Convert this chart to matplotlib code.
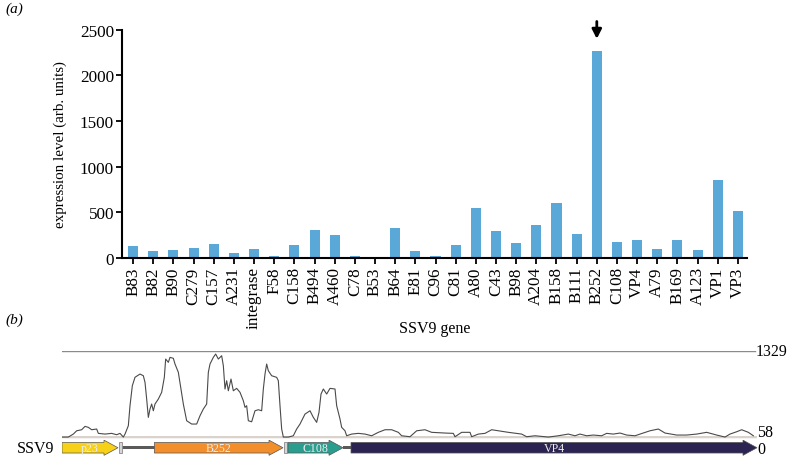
import matplotlib
matplotlib.use("Agg")
import matplotlib.pyplot as plt
from matplotlib.patches import Polygon, Rectangle

plt.rcParams['font.family'] = ['Liberation Serif', 'DejaVu Serif']

# ---------------- data: panel (a) ----------------
genes = ["B83", "B82", "B90", "C279", "C157", "A231", "integrase", "F58", "C158",
         "B494", "A460", "C78", "B53", "B64", "E81", "C96", "C81", "A80", "C43",
         "B98", "A204", "B158", "B111", "B252", "C108", "VP4", "A79", "B169",
         "A123", "VP1", "VP3"]
expression = [135, 80, 87, 110, 152, 57, 102, 25, 142, 302, 252, 18, 14, 324, 75,
              22, 142, 553, 292, 165, 365, 602, 268, 2270, 178, 193, 98, 197, 84,
              852, 510]
highlight_gene = "B252"
yticks_a = [0, 500, 1000, 1500, 2000, 2500]

# ---------------- data: panel (b) ----------------
cov_pos = [0, 38, 68, 88, 118, 138, 158, 178, 208, 218, 258, 298, 328, 348, 368,
           378, 398, 408, 422, 438, 468, 488, 498, 508, 518, 528, 538, 548, 558,
           578, 598, 614, 622, 638, 648, 668, 678, 698, 714, 728, 748, 778, 808,
           828, 848, 868, 878, 888, 908, 922, 938, 958, 968, 978, 988, 998, 1014,
           1028, 1048, 1068, 1088, 1098, 1108, 1118, 1138, 1158, 1178, 1198, 1208,
           1218, 1228, 1238, 1258, 1288, 1298, 1308, 1318, 1328, 1358, 1388, 1408,
           1428, 1458, 1488, 1508, 1528, 1542, 1554, 1568, 1588, 1608, 1638, 1648,
           1668, 1678, 1698, 1708, 1738, 1778, 1818, 1858, 1898, 1938, 1978, 2018,
           2038, 2088, 2128, 2178, 2218, 2298, 2348, 2358, 2398, 2448, 2458, 2498,
           2538, 2578, 2618, 2678, 2758, 2788, 2838, 2918, 2978, 3038, 3078, 3108,
           3148, 3188, 3238, 3268, 3308, 3348, 3388, 3438, 3488, 3528, 3578, 3618,
           3688, 3748, 3808, 3868, 3928, 3978, 4008, 4048, 4078, 4118, 4148]
cov_val = [0, 0, 46, 97, 113, 165, 150, 113, 124, 57, 46, 57, 36, 57, 0,
           46, 175, 484, 793, 923, 973, 947, 845, 587, 304, 433, 510, 406, 510,
           587, 691, 922, 1205, 1154, 1231, 1216, 1128, 1000, 742, 510, 252, 201, 201,
           329, 433, 510, 1000, 1128, 1231, 1282, 1205, 1256, 1102, 742, 870, 715, 896,
           715, 752, 691, 561, 459, 484, 252, 236, 406, 422, 406, 742,
           973, 1128, 1024, 947, 922, 870, 484, 124, 0, 0, 20, 124,
           201, 355, 406, 304, 227, 382, 664, 742, 664, 752, 742, 484,
           278, 150, 97, 20, 46, 57, 46, 20, 73, 113, 113, 73,
           20, 5, 97, 113, 73, 62, 57, 5, 73, 73, 5, 46,
           57, 113, 97, 73, 46, 5, 20, 0, 20, 46, 20, 46,
           20, 31, 20, 57, 46, 62, 31, 20, 62, 97, 124, 62,
           31, 31, 46, 73, 31, 0, 46, 82, 113, 73, 20]
cov_max = 1329
cov_mid_label = 58
genome_len = 4170

gene_names = ["p23", "B252", "C108", "VP4"]
gene_start = [0, 554, 1356, 1734]
gene_end = [336, 1326, 1686, 4170]
gene_colors = ["#f7d117", "#f28e2b", "#2a9d8f", "#2b2452"]
small_start = [344, 1332]
small_end = [360, 1350]
link_start = [360, 1686]
link_end = [558, 1734]

# ---------------- figure ----------------
fig = plt.figure(figsize=(7.87, 4.60), dpi=100)
W, H = 787.0, 460.0

def frac(x0, y0, x1, y1):
    return [x0 / W, 1 - y1 / H, (x1 - x0) / W, (y1 - y0) / H]

# panel (a)
ax = fig.add_axes(frac(122, 30.7, 747, 259))
x = list(range(len(genes)))
ax.bar(x, expression, width=0.5, color="#5aa8d8", zorder=2)
ax.set_xlim(-0.55, 30.45)
ax.set_ylim(0, 2500)
ax.set_yticks(yticks_a)
ax.set_xticks(x)
ax.set_xticklabels(genes, rotation=90, fontsize=12.3)
ax.tick_params(axis='y', labelsize=12.3, length=4.3, width=1.3, pad=1.5)
ax.tick_params(axis='x', length=4, width=1.3, pad=2)
for s in ["top", "right"]:
    ax.spines[s].set_visible(False)
for s in ["left", "bottom"]:
    ax.spines[s].set_linewidth(1.5)
ax.set_ylabel("expression level (arb. units)", fontsize=10.8)
ax.yaxis.set_label_coords(-0.088, 0.5)
ax.set_xlabel("SSV9 gene", fontsize=11.5)
ax.xaxis.set_label_coords(0.5, -0.272)

hi = genes.index(highlight_gene)
ax.annotate("", xy=(hi, expression[hi] + 130), xytext=(hi, expression[hi] + 320),
            arrowprops=dict(arrowstyle="-|>,head_length=0.55,head_width=0.28",
                            color="black", lw=2.0, shrinkA=0, shrinkB=0),
            annotation_clip=False)

fig.text(5 / W, 1 - 9 / H, "(a)", fontsize=11, style="italic", va="center")
fig.text(5 / W, 1 - 320 / H, "(b)", fontsize=11, style="italic", va="center")

# panel (b) coverage
axb = fig.add_axes(frac(62, 352, 757, 440))
axb.set_xlim(0, genome_len)
axb.set_ylim(-30, cov_max)
axb.axhline(cov_max, xmax=0.997, color="#8a8a8a", lw=1.0)
axb.axhline(0, color="#d8cfc6", lw=1.3)
axb.axhline(-25, color="#c4c4c4", lw=1.0)
axb.plot(cov_pos, cov_val, color="#4a4a4a", lw=0.8)
axb.axis("off")
axb.text(0.998, cov_max, str(cov_max), transform=axb.get_yaxis_transform(),
         fontsize=11.3, va="center", ha="left")
axb.text(1.0, 20 + 4 * 15.4, str(cov_mid_label), transform=axb.get_yaxis_transform(),
         fontsize=11.5, va="center", ha="left", clip_on=False)

# gene track
axg = fig.add_axes(frac(62, 440.5, 760, 457))
axg.set_xlim(0, genome_len * 698 / 695)
axg.set_ylim(-1, 1)
axg.axis("off")
head = 84
bh, hh = 0.64, 0.92
for s, e in zip(link_start, link_end):
    axg.add_patch(Rectangle((s, -0.2), e - s, 0.4, color="#5a5a5a", lw=0))
for s, e in zip(small_start, small_end):
    axg.add_patch(Rectangle((s, -0.66), e - s, 1.32, facecolor="#d6d6d6",
                            edgecolor="#8a8a8a", lw=0.6))
for name, s, e, c in zip(gene_names, gene_start, gene_end, gene_colors):
    hs = e - head
    pts = [(s, -bh), (hs, -bh), (hs, -hh), (e, 0), (hs, hh), (hs, bh), (s, bh)]
    axg.add_patch(Polygon(pts, closed=True, facecolor=c, edgecolor="#555555", lw=0.5))
    axg.text((s + e) / 2, 0, name, color="#eeeeee", fontsize=8.6,
             ha="center", va="center")
axg.text(genome_len * 1.0, -0.1, "0", fontsize=11.5, va="center", ha="left")

fig.text(54 / W, 1 - 449 / H, "SSV9", fontsize=11.5, ha="right", va="center")

fig.savefig("out.png", dpi=100)
